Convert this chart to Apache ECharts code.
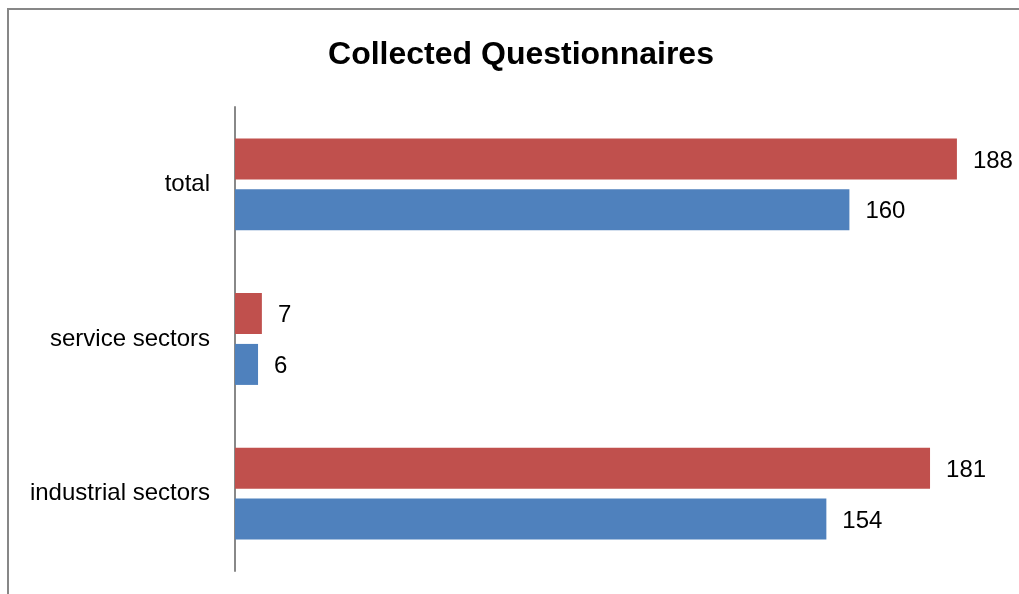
<!DOCTYPE html>
<html>
<head>
<meta charset="utf-8">
<script src="https://cdn.jsdelivr.net/npm/echarts@6/dist/echarts.min.js"></script>
<style>
html,body{margin:0;padding:0;background:#fff;}
#chart{width:1019px;height:594px;}
</style>
</head>
<body>
<div id="chart"></div>
<script>
// 数据
var categories = ['industrial sectors', 'service sectors', 'total'];
var blueValues = [154, 6, 160];
var redValues = [181, 7, 188];

var myChart = echarts.init(document.getElementById('chart'));
var labelFont = '"Liberation Sans", Arial, sans-serif';

var option = {
    animation: false,
    title: {
        text: 'Collected Questionnaires',
        left: 516,
        top: 34,
        textAlign: 'center',
        textStyle: {
            fontFamily: labelFont,
            fontWeight: 'bold',
            fontSize: 32,
            color: '#000'
        }
    },
    graphic: [{
        type: 'rect',
        shape: {x: 8, y: 9, width: 2000, height: 2000},
        style: {fill: 'none', stroke: '#878787', lineWidth: 2}
    }],
    grid: {left: 235, right: 16, top: 107, bottom: 23},
    xAxis: {
        type: 'value',
        min: 0,
        max: 200,
        show: false
    },
    yAxis: {
        type: 'category',
        data: categories,
        axisLine: {lineStyle: {color: '#888', width: 2}},
        axisTick: {show: false},
        axisLabel: {
            margin: 25,
            padding: [4, 0, 0, 0],
            fontFamily: labelFont,
            fontSize: 24,
            color: '#000'
        }
    },
    // 红色在上，蓝色在下
    series: [{
        name: 'red',
        type: 'bar',
        data: redValues,
        barWidth: 41,
        barGap: '24%',
        itemStyle: {color: '#c0504d'},
        label: {
            show: true, position: 'right', distance: 16, offset: [0, 2],
            fontFamily: labelFont, fontSize: 24, color: '#000'
        }
    }, {
        name: 'blue',
        type: 'bar',
        data: blueValues,
        barWidth: 41,
        barGap: '24%',
        itemStyle: {color: '#4f81bd'},
        label: {
            show: true, position: 'right', distance: 16, offset: [0, 2],
            fontFamily: labelFont, fontSize: 24, color: '#000'
        }
    }]
};

myChart.setOption(option);
</script>
</body>
</html>
